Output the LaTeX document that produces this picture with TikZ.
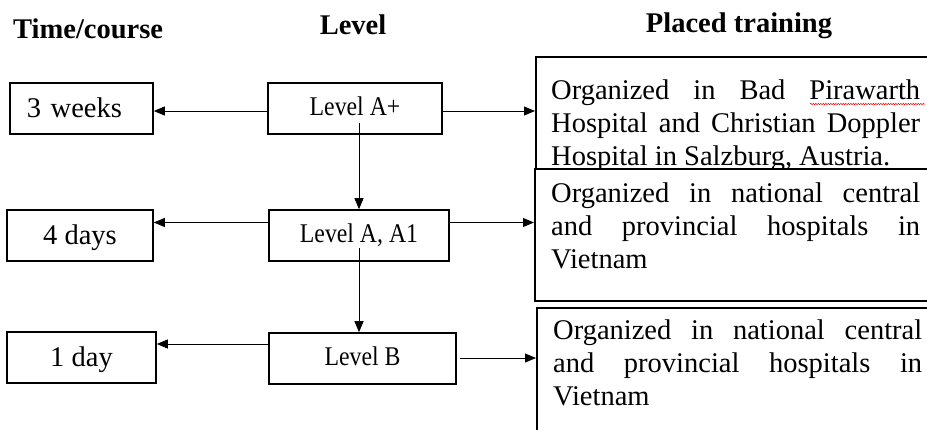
\documentclass[tikz,border=0pt]{standalone}
\usepackage{fontspec}
\setmainfont{Liberation Serif}
\usepackage{graphicx}
\usetikzlibrary{arrows.meta,calc,decorations.pathmorphing}
\begin{document}
\begin{tikzpicture}[x=1pt,y=-1pt,
 box/.style={draw, line width=1.6pt, inner sep=0pt, minimum height=51pt, text height=18pt, text depth=0pt, font=\fontsize{28.5}{33}\selectfont},
 lvl/.style={draw, line width=1.6pt, inner sep=0pt, minimum height=51pt, text height=13pt, text depth=0pt, font=\fontsize{27}{30}\selectfont},
 rbox/.style={draw, line width=1.6pt, fill=white, anchor=north west, inner sep=0pt, minimum width=405pt},
 rtext/.style={anchor=base west, text width=369pt, align=justify, inner sep=0pt, font=\fontsize{28.5}{33}\selectfont},
 title/.style={anchor=base, inner sep=0pt, font=\fontsize{28.5}{33}\selectfont\bfseries},
 arr/.style={line width=0.9pt, -{Triangle[length=11pt,width=9pt]}},
 squig/.style={red, line width=0.5pt, decorate, decoration={snake, amplitude=0.7pt, segment length=2.5pt}}
]
\path[use as bounding box, clip] (0,0) rectangle (927,429);

% titles
\node[title, anchor=base west] (h1) at (13,38) {Time/course};
\node[title] (h2) at (353,34) {Level};
\node[title] (h3) at (739,32) {Placed training};

% time boxes
\node[box, minimum width=143pt, text width=109pt, align=left] (ta) at (81.5,108.5) {3 weeks};
\node[box, minimum width=146pt] (tb) at (80,235.5) {4 days};
\node[box, minimum width=149pt] (tc) at (81.5,357.5) {1 day};

% level boxes
\node[lvl, minimum width=174pt] (la) at (355,108.5) {\scalebox{0.88}[1]{Level A+}};
\node[lvl, minimum width=180pt] (lb) at (359,235.5) {\scalebox{0.88}[1]{Level A, A1}};
\node[lvl, minimum width=187pt] (lc) at (362.5,358.5) {\scalebox{0.88}[1]{Level B}};

% placed training boxes
\node[rbox, minimum height=144pt] (r1) at (535,56) {};
\node[rtext] (t1) at (551,99) {Organized in Bad Pirawarth\linebreak Hospital and Christian Doppler\linebreak Hospital in Salzburg, Austria.};
\draw[squig] (810,104) -- (925,104);
\node[rbox, minimum height=132pt] (r2) at (534,168) {};
\node[rtext] (t2) at (551,202) {Organized in national central\linebreak and provincial hospitals in\linebreak Vietnam};
\node[rbox, minimum height=140pt] (r3) at (536,307) {};
\node[rtext] (t3) at (553,339) {Organized in national central\linebreak and provincial hospitals in\linebreak Vietnam};

% connectors: left
\draw[arr] (la.west |- 0,111) -- (ta.east |- 0,111);
\draw[arr] (lb.west |- 0,222.5) -- (tb.east |- 0,222.5);
\draw[arr] (lc.west |- 0,344) -- (tc.east |- 0,344);

% connectors: right
\draw[arr] (la.east |- 0,111) -- (r1.west |- 0,111);
\draw[arr] (lb.east |- 0,222.5) -- (r2.west |- 0,222.5);
\draw[arr] ($(lc.east |- 0,358)+(3,0)$) -- (r3.west |- 0,358);

% connectors: down
\draw[arr] ($(la.south)+(4,-12)$) -- (lb.north);
\draw[arr] ($(lb.south)+(0,-14)$) -- (lc.north -| lb.south);
\end{tikzpicture}
\end{document}
